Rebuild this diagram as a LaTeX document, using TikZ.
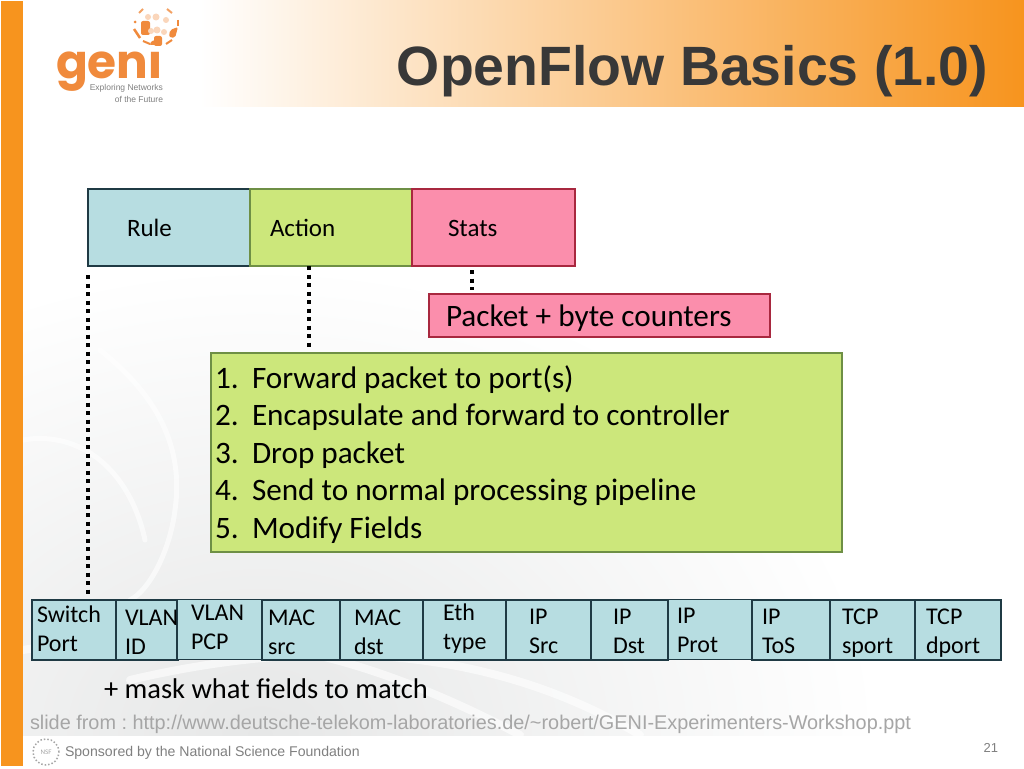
\documentclass[tikz,border=0pt]{standalone}
\usepackage{fontspec}
\setmainfont{Carlito}
\newfontfamily\arialf{Liberation Sans}
\newfontfamily\logof{Poppins}
\usetikzlibrary{calc}
\definecolor{geniorange}{HTML}{F7941E}
\definecolor{logoorange}{HTML}{F08A3C}
\definecolor{boxblue}{HTML}{B7DDE1}
\definecolor{boxgreen}{HTML}{CCE77B}
\definecolor{boxpink}{HTML}{FB8EAC}
\definecolor{edgeblue}{HTML}{1F3A44}
\definecolor{edgegreen}{HTML}{6E8F45}
\definecolor{edgered}{HTML}{A8283F}
\definecolor{titlegray}{HTML}{383838}
\definecolor{faint}{HTML}{A6A6A6}
\definecolor{swirl}{HTML}{E6E7E7}
\frenchspacing
\tikzset{
  x=1pt,y=-1pt,
  every node/.style={outer sep=0pt},
  cellbox/.style={draw=edgeblue,fill=boxblue,line width=1.5pt,anchor=north west,inner sep=0pt},
  topbox/.style={line width=1.5pt,anchor=north west,inner sep=0pt},
  celltext/.style={font=\fontsize{24}{29}\selectfont,align=left,anchor=north west,inner sep=0pt,text=black},
  toptext/.style={font=\fontsize{25}{27}\selectfont,anchor=base west,inner sep=0pt,text=black},
  bigtext/.style={font=\fontsize{31.2}{32}\selectfont,anchor=base west,inner sep=0pt,text=black},
  dotline/.style={line width=4pt,dash pattern=on 4pt off 4.5pt,black,shorten >=4pt},
  ball/.style={fill=logoorange,draw=none},
  ballpale/.style={fill=logoorange!35,draw=none},
  swirlarc/.style={white,line width=5pt,opacity=.6,line cap=round},
}
\begin{document}
\begin{tikzpicture}
\useasboundingbox (0,0) rectangle (1024,768);
\fill[white] (0,0) rectangle (1024,768);
% top band
\path[left color=white,right color=geniorange] (200,1) rectangle (1024,106);
\fill[geniorange] (1,1) rectangle (23,766);
% background swirl
\begin{scope}
\clip (23,260) rectangle (900,735);
\shade[inner color=swirl,outer color=white] (260,735) ellipse (620 and 470);
\draw[swirlarc] (100,350) .. controls (150,390) and (185,440) .. (175,510) .. controls (170,550) and (150,590) .. (130,600);
\draw[swirlarc] (23,440) .. controls (80,430) and (130,470) .. (145,540);
\draw[swirlarc,line width=8pt] (23,650) .. controls (200,620) and (340,640) .. (520,735);
\draw[swirlarc,line width=8pt] (130,680) .. controls (300,640) and (480,640) .. (640,735);
\end{scope}
% logo
\node[font=\logof\bfseries\fontsize{47}{47}\selectfont,text=logoorange,inner sep=0pt,anchor=base west] (logo) at (56,78) {geni};
\node[font=\arialf\fontsize{8.5}{12}\selectfont,text=gray,inner sep=0pt,align=right,anchor=north east] (logosub) at (163,84) {Exploring Networks\\of the Future};
\fill[white] (145,45) rectangle (170,50);
\fill[ball,rounded corners=2pt] (141,21) rectangle (150,35);
\fill[ball,rounded corners=2pt] (154,36) rectangle (162,46);
\fill[ball,rounded corners=2pt] (170,30) -- (178,27) -- (175,38) -- (169,37) -- cycle;
\fill[ballpale] (148,17) circle (3); \fill[ballpale] (156,17) circle (3.5); \fill[ballpale] (166,20) circle (3);
\fill[ballpale] (157,30) circle (3.5); \fill[ballpale] (151,31) circle (3); \fill[ballpale] (164,32) circle (3);
\draw[logoorange,line width=2pt,opacity=.8] (139,13) -- (143,9);
\draw[logoorange,line width=2pt,opacity=.8] (167,9) -- (172,13);
\fill[ball] (135,22) circle (1.5); \draw[logoorange,line width=2.5pt] (178,20) -- (178,26);
\draw[logoorange,line width=2.5pt] (134,29) -- (140,38);
\draw[logoorange,line width=2pt] (143,41) -- (150,44);
\draw[logoorange,line width=2pt] (166,44) -- (172,40);
% title
\node[font=\arialf\bfseries\fontsize{55.4}{56}\selectfont,text=titlegray,inner sep=0pt,anchor=base east] (title) at (988,85.5) {OpenFlow Basics (1.0)};
% top boxes
\node[topbox,draw=edgeblue,fill=boxblue,minimum width=162pt,minimum height=77pt] (rule) at (88,189) {};
\node[topbox,draw=edgegreen,fill=boxgreen,minimum width=162pt,minimum height=77pt] (action) at (250,189) {};
\node[topbox,draw=edgered,fill=boxpink,minimum width=163pt,minimum height=77pt] (stats) at (412,189) {};
\node[toptext] (ruletext) at (127,236) {Rule};
\node[toptext] (actiontext) at (270,236) {Action};
\node[toptext] (statstext) at (448,236) {Stats};
% packet box
\node[topbox,draw=edgered,fill=boxpink,minimum width=341pt,minimum height=43pt] (packet) at (429,294) {};
\node[bigtext] (packettext) at (446,326) {Packet + byte counters};
% action list
\node[topbox,draw=edgegreen,fill=boxgreen,minimum width=631pt,minimum height=199pt] (list) at (211,353) {};
\foreach \n/\t/\yy in {1/Forward packet to port(s)/388,2/Encapsulate and forward to controller/425.5,3/Drop packet/463,4/Send to normal processing pipeline/500.5,5/Modify Fields/538}{
  \node[bigtext] (num\n) at (215,\yy) {\n.};
  \node[bigtext] (item\n) at (252,\yy) {\t};
}
% field cells
\foreach \cname/\xa/\cw in {swport/32/84,vid/116/62,mac1/262/78,mac2/340/83,eth/423/83,ipsrc/506/85,ipdst/591/77,iptos/752/78,tcps/830/85,tcpd/915/86}{
  \node[cellbox,minimum width=\cw pt,minimum height=60pt] (\cname) at (\xa,600) {};
}
\node[cellbox,minimum width=85pt,minimum height=60pt] (vpcp) at (177,599.5) {};
\node[cellbox,minimum width=84pt,minimum height=60pt] (ipprot) at (668,599.5) {};
\node[celltext] (t1) at (37,606) {Switch\\Port};
\node[celltext] (t2) at (125,610) {VLAN\\ID};
\node[celltext] (t3) at (191,605) {VLAN\\PCP};
\node[celltext] (t4) at (268,610) {MAC\\src};
\node[celltext] (t5) at (354,610) {MAC\\dst};
\node[celltext] (t6) at (443,604) {Eth\\type};
\node[celltext] (t7) at (529,609) {IP\\Src};
\node[celltext] (t8) at (613,609) {IP\\Dst};
\node[celltext] (t9) at (677,608) {IP\\Prot};
\node[celltext] (t10) at (762,609) {IP\\ToS};
\node[celltext] (t11) at (842,609) {TCP\\sport};
\node[celltext] (t12) at (926,609) {TCP\\dport};
% dotted connectors
\coordinate (ruledrop) at (88,275);
\draw[dotline] (ruledrop) -- (swport.north -| ruledrop);
\coordinate (actdrop) at (309,266);
\draw[dotline] (actdrop) -- (list.north -| actdrop);
\coordinate (statdrop) at (472,270);
\draw[dotline] (statdrop) -- (packet.north -| statdrop);
% footer
\node[bigtext,font=\fontsize{28.5}{32}\selectfont] (mask) at (104,698.5) {+ mask what fields to match};
\node[font=\arialf\fontsize{19.86}{20}\selectfont,text=faint,anchor=west,inner sep=0pt] (slide) at (30,724) {slide from : http://www.deutsche-telekom-laboratories.de/\textasciitilde robert/GENI-Experimenters-Workshop.ppt};
\node[draw=faint,dotted,circle,line width=1.5pt,minimum size=26pt,inner sep=0pt,font=\fontsize{7}{7}\selectfont,text=faint] (nsf) at (46,752) {NSF};
\node[font=\arialf\fontsize{14.1}{16}\selectfont,text=gray,anchor=west,inner sep=0pt] (spons) at (65,753) {Sponsored by the National Science Foundation};
\node[font=\arialf\fontsize{13}{14}\selectfont,text=gray,anchor=east,inner sep=0pt] (pageno) at (998,748) {21};
\end{tikzpicture}
\end{document}
